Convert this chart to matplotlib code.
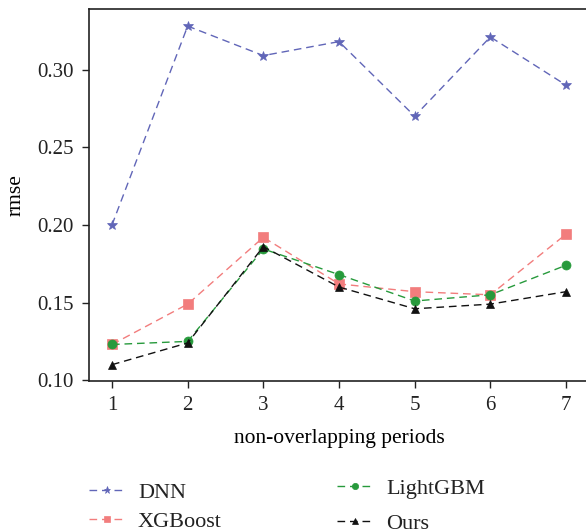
import matplotlib
matplotlib.use("Agg")
import matplotlib.pyplot as plt

periods = [1, 2, 3, 4, 5, 6, 7]
dnn = [0.200, 0.328, 0.309, 0.318, 0.270, 0.321, 0.290]
xgboost = [0.123, 0.149, 0.192, 0.162, 0.157, 0.155, 0.194]
lightgbm = [0.123, 0.125, 0.1845, 0.168, 0.151, 0.155, 0.174]
ours = [0.110, 0.124, 0.186, 0.160, 0.146, 0.149, 0.157]
yticks = [0.10, 0.15, 0.20, 0.25, 0.30]

plt.rcParams['font.family'] = ['Liberation Serif', 'DejaVu Serif']
plt.rcParams['font.size'] = 15

fig = plt.figure(figsize=(5.86, 5.30), dpi=100)
ax = fig.add_axes([89/586, 1-381/530, 500/586, 372/530])

dash = (0, (5.5, 3.5))
series = [
    ("DNN", dnn, "#6166b8", "*", 7.5),
    ("XGBoost", xgboost, "#f27d7d", "s", 7),
    ("LightGBM", lightgbm, "#279a3c", "o", 6.5),
    ("Ours", ours, "#111111", "^", 6),
]
handles = []
for name, vals, col, mk, ms in series:
    h, = ax.plot(periods, vals, color=col, linestyle=dash, linewidth=1.0,
                 marker=mk, markersize=ms, markeredgewidth=0.5, label=name)
    handles.append(h)

ax.set_xlim(0.696, 7.304)
ax.set_ylim(0.0995, 0.339)
ax.set_xticks(periods)
ax.set_yticks(yticks)
ax.set_yticklabels([f"{v:.2f}" for v in yticks])
ax.tick_params(direction='out', length=5, width=1, colors='#222222', labelsize=15, pad=6)
for s in ax.spines.values():
    s.set_linewidth(1.2)
    s.set_color('#222222')
ax.set_xlabel("non-overlapping periods", fontsize=15.5, labelpad=10)
ax.set_ylabel("rmse", fontsize=15.5, labelpad=8)

base = dict(frameon=False, fontsize=16, handlelength=1.6, handletextpad=0.6,
            borderaxespad=0, borderpad=0, markerscale=0.7)
leg1 = fig.legend(handles=[handles[0], handles[1]], loc='upper left',
                  bbox_to_anchor=(89/586, 1-482/530), labelspacing=0.38, **base)
leg2 = fig.legend(handles=[handles[2], handles[3]], loc='upper left',
                  bbox_to_anchor=(337/586, 1-478/530), labelspacing=0.65, **base)
for lg in (leg1, leg2):
    for t in lg.get_texts():
        t.set_color('#222222')

fig.savefig("out.png", dpi=100)
